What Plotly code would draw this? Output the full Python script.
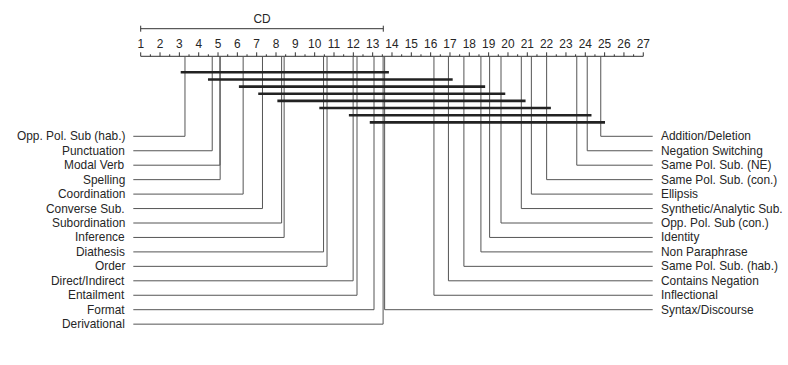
import plotly.graph_objects as go

# average ranks (lower = better)
LEFT_NAMES = ["Opp. Pol. Sub (hab.)", "Punctuation", "Modal Verb", "Spelling", "Coordination",
              "Converse Sub.", "Subordination", "Inference", "Diathesis", "Order",
              "Direct/Indirect", "Entailment", "Format", "Derivational"]
LEFT_RANKS = [3.29, 4.70, 5.10, 5.11, 6.30, 7.30, 8.29, 8.42, 10.46, 10.64, 11.99, 12.19, 13.07, 13.54]

RIGHT_NAMES = ["Addition/Deletion", "Negation Switching", "Same Pol. Sub. (NE)", "Same Pol. Sub. (con.)",
               "Ellipsis", "Synthetic/Analytic Sub.", "Opp. Pol. Sub (con.)", "Identity",
               "Non Paraphrase", "Same Pol. Sub. (hab.)", "Contains Negation", "Inflectional",
               "Syntax/Discourse"]
RIGHT_RANKS = [24.80, 24.10, 23.56, 22.00, 21.21, 20.69, 19.64, 19.05, 18.60, 17.72, 16.92, 16.17, 13.62]

# groups not significantly different (first / last member)
CLIQUE_LO = ["Opp. Pol. Sub (hab.)", "Punctuation", "Coordination", "Converse Sub.",
             "Subordination", "Diathesis", "Direct/Indirect", "Format"]
CLIQUE_HI = ["Syntax/Discourse", "Contains Negation", "Non Paraphrase", "Opp. Pol. Sub (con.)",
             "Synthetic/Analytic Sub.", "Same Pol. Sub. (con.)", "Negation Switching", "Addition/Deletion"]

CD = 12.55
TICKS = list(range(1, 28))

W, H = 788, 365
PX = 19.33                      # pixels per rank unit
X0 = 1 - 140.7 / PX             # rank at figure left edge
X1 = X0 + W / PX
AXIS_Y = 56.3
ROW0, ROW_STEP = 136.3, 14.45
BAR0, BAR_STEP = 72.3, 7.15
EXT = 0.22                      # clique bar overhang
LINE_C = "#555555"
TXT_C = "#262626"
FONT = dict(family="Liberation Sans, Arial, sans-serif", size=11.9, color=TXT_C)

rank_of = dict(zip(LEFT_NAMES + RIGHT_NAMES, LEFT_RANKS + RIGHT_RANKS))
lx_end = 1 + (133.3 - 140.7) / PX
rx_end = 1 + (652.7 - 140.7) / PX
ltxt = 1 + (127.0 - 140.7) / PX
rtxt = 1 + (659.0 - 140.7) / PX

fig = go.Figure()

# axis line + ticks
tx, ty = [1, 27, None], [AXIS_Y, AXIS_Y, None]
for t in TICKS:
    tx += [t, t, None]
    ty += [AXIS_Y, AXIS_Y - 4, None]
for t in TICKS[:-1]:
    tx += [t + 0.5, t + 0.5, None]
    ty += [AXIS_Y, AXIS_Y - 2, None]
fig.add_trace(go.Scatter(x=tx, y=ty, mode="lines", line=dict(color="#333333", width=1)))
fig.add_trace(go.Scatter(x=TICKS, y=[45.5] * len(TICKS), mode="text", text=[str(t) for t in TICKS],
                         textfont=FONT, textposition="middle center"))

# CD bar
cy = 28.7
fig.add_trace(go.Scatter(x=[1, 1 + CD, None, 1, 1, None, 1 + CD, 1 + CD],
                         y=[cy, cy, None, cy - 3, cy + 3, None, cy - 3, cy + 3],
                         mode="lines", line=dict(color="#333333", width=1)))
fig.add_trace(go.Scatter(x=[1 + CD / 2], y=[20.5], mode="text", text=["CD"],
                         textfont=FONT, textposition="middle center"))

# connector lines
lx, ly = [], []
for i, r in enumerate(LEFT_RANKS):
    yy = ROW0 + i * ROW_STEP
    lx += [r, r, lx_end, None]
    ly += [AXIS_Y, yy, yy, None]
for i, r in enumerate(RIGHT_RANKS):
    yy = ROW0 + i * ROW_STEP
    lx += [r, r, rx_end, None]
    ly += [AXIS_Y, yy, yy, None]
fig.add_trace(go.Scatter(x=lx, y=ly, mode="lines", line=dict(color=LINE_C, width=1)))

# clique bars
bx, by = [], []
for k, (a, b) in enumerate(zip(CLIQUE_LO, CLIQUE_HI)):
    yy = BAR0 + k * BAR_STEP
    bx += [rank_of[a] - EXT, rank_of[b] + EXT, None]
    by += [yy, yy, None]
fig.add_trace(go.Scatter(x=bx, y=by, mode="lines", line=dict(color="#222222", width=2.6)))

ann = []
for i, n in enumerate(LEFT_NAMES):
    ann.append(dict(x=ltxt, y=ROW0 + i * ROW_STEP, text=n, xanchor="right", yanchor="middle",
                    showarrow=False, font=FONT))
for i, n in enumerate(RIGHT_NAMES):
    ann.append(dict(x=rtxt, y=ROW0 + i * ROW_STEP, text=n, xanchor="left", yanchor="middle",
                    showarrow=False, font=FONT))

fig.update_traces(hoverinfo="skip", showlegend=False, cliponaxis=False)
fig.update_layout(
    width=W, height=H, margin=dict(l=0, r=0, t=0, b=0),
    paper_bgcolor="white", plot_bgcolor="white", font=FONT, annotations=ann,
    xaxis=dict(range=[X0, X1], visible=False, fixedrange=True),
    yaxis=dict(range=[H, 0], visible=False, fixedrange=True),
    hovermode=False,
)
# drop the default 8px page margin so the figure fills the window exactly
fig.write_html("out.html", config=dict(displayModeBar=False, staticPlot=True),
               post_script="document.body.style.margin='0';document.body.style.overflow='hidden';")
